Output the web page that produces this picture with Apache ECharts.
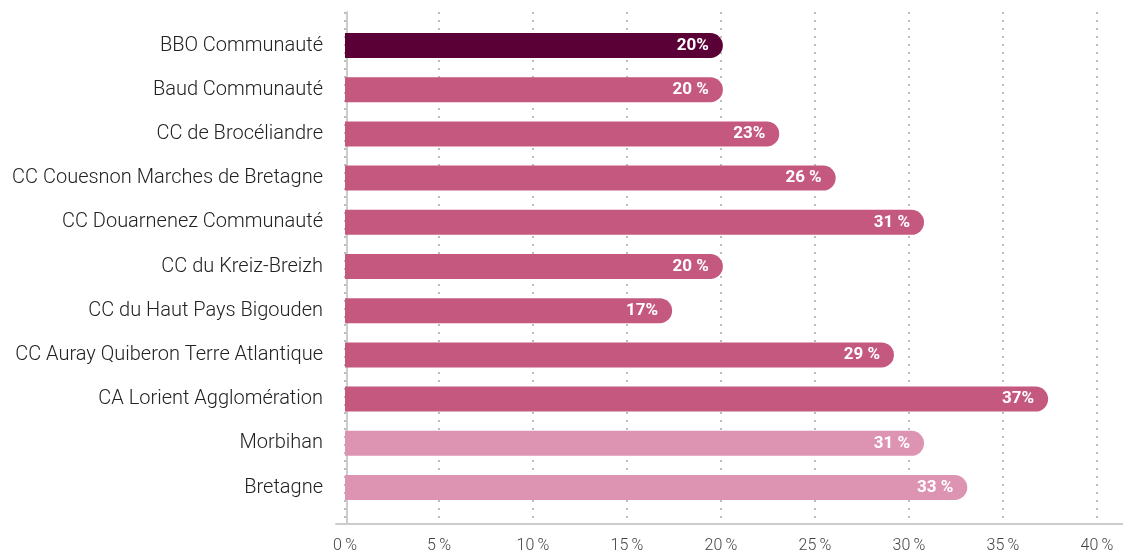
<!DOCTYPE html>
<html>
<head>
<meta charset="utf-8">
<script src="https://cdn.jsdelivr.net/npm/echarts@6/dist/echarts.min.js"></script>
<style>
  html, body { margin: 0; padding: 0; background: #fff; }
  #chart { width: 1123px; height: 555px; }
</style>
</head>
<body>
<div id="chart"></div>
<script>
// ---- data ----
var categories = [
  'BBO Communauté',
  'Baud Communauté',
  'CC de Brocéliandre',
  'CC Couesnon Marches de Bretagne',
  'CC Douarnenez Communauté',
  'CC du Kreiz-Breizh',
  'CC du Haut Pays Bigouden',
  'CC Auray Quiberon Terre Atlantique',
  'CA Lorient Agglomération',
  'Morbihan',
  'Bretagne'
];
var values = [20.1, 20.1, 23.1, 26.1, 30.8, 20.1, 17.4, 29.2, 37.4, 30.8, 33.1];
var valueLabels = ['20%', '20 %', '23%', '26 %', '31 %', '20 %', '17%', '29 %', '37%', '31 %', '33 %'];
var kinds = ['focus', 'epci', 'epci', 'epci', 'epci', 'epci', 'epci', 'epci', 'epci', 'dept', 'region'];
var tickLabels = ['0\u2009%', '5\u2009%', '10\u2009%', '15\u2009%', '20\u2009%', '25\u2009%', '30\u2009%', '35\u2009%', '40\u2009%'];

// ---- styles ----
var kindColors = { focus: '#5b0036', epci: '#c4587f', dept: '#dd94b3', region: '#dd94b3' };
var FONT = 'Roboto, "Noto Sans", sans-serif';

var chart = echarts.init(document.getElementById('chart'), null, { renderer: 'canvas' });
chart.setOption({
  animation: false,
  backgroundColor: '#ffffff',
  grid: [
    { left: 336, right: 0, top: 12, bottom: 31 },
    { left: 345, right: 26, top: 12, bottom: 31 },
    { left: 345, right: 26, top: 23.4, bottom: 45.4 }
  ],
  xAxis: [
    {
      gridIndex: 0, type: 'value', min: 0, max: 1,
      axisLine: { show: true, onZero: false, lineStyle: { color: '#cccccc', width: 2 } },
      axisTick: { show: false }, axisLabel: { show: false }, splitLine: { show: false }
    },
    {
      gridIndex: 1, type: 'value', min: 0, max: 40, interval: 5,
      axisLine: { show: false }, axisTick: { show: false },
      axisLabel: {
        margin: 14, color: '#444444', fontFamily: FONT, fontSize: 16, fontWeight: 300,
        formatter: function (v) { return tickLabels[Math.round(v / 5)]; }
      },
      splitLine: { show: true, lineStyle: { color: '#bdbdbd', width: 2, type: [2, 6] } }
    },
    {
      gridIndex: 2, type: 'value', min: 0, max: 40, show: false
    }
  ],
  yAxis: [
    { gridIndex: 0, type: 'value', show: false },
    {
      gridIndex: 1, type: 'value', offset: -2,
      axisLine: { show: true, onZero: false, lineStyle: { color: '#cccccc', width: 2 } },
      axisTick: { show: false }, axisLabel: { show: false }, splitLine: { show: false }
    },
    {
      gridIndex: 2, type: 'category', data: categories, inverse: true,
      axisLine: { show: false }, axisTick: { show: false },
      axisLabel: { margin: 22, color: '#222222', fontFamily: FONT, fontSize: 20, fontWeight: 300 }
    }
  ],
  series: [
    {
      type: 'bar',
      xAxisIndex: 2, yAxisIndex: 2,
      data: values,
      barWidth: 25,
      itemStyle: {
        color: function (p) { return kindColors[kinds[p.dataIndex]]; },
        borderRadius: [0, 13, 13, 0]
      },
      label: {
        show: true, position: 'insideRight', distance: 14,
        color: '#ffffff', fontFamily: FONT, fontSize: 17, fontWeight: 'bold',
        formatter: function (p) { return valueLabels[p.dataIndex]; }
      }
    }
  ]
});
</script>
</body>
</html>
